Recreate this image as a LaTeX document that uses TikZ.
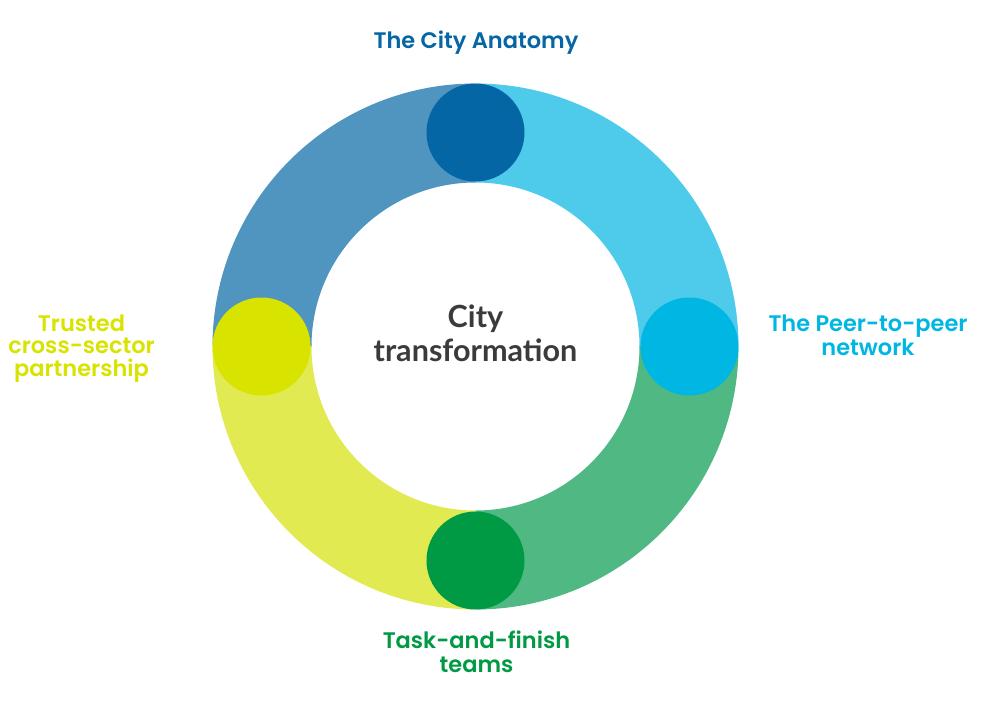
\documentclass[tikz,border=0pt]{standalone}
\usepackage{fontspec}
\setmainfont{Lato}
\newfontfamily\lblfont{Poppins SemiBold}
\usepackage{tikz}
\usepackage{xcolor}

\definecolor{anatomyDark}{HTML}{0566A5}
\definecolor{anatomyLight}{HTML}{4F95C0}
\definecolor{peerDark}{HTML}{00B6E2}
\definecolor{peerLight}{HTML}{4ECBEB}
\definecolor{taskDark}{HTML}{009A44}
\definecolor{taskLight}{HTML}{4FB883}
\definecolor{trustDark}{HTML}{D8E300}
\definecolor{trustLight}{HTML}{E2EA52}
\definecolor{coreGray}{HTML}{3B3B3D}

\begin{document}
\begin{tikzpicture}[
  seg/.style={line width=1.98cm},
  hub/.style={circle, minimum size=1.96cm, inner sep=0pt},
  lbl/.style={align=center, inner sep=0pt, font=\lblfont\fontsize{12.8}{13.8}\selectfont},
  core/.style={align=center, inner sep=0pt, font=\bfseries\fontsize{17.4}{19.3}\selectfont, text=coreGray},
]

% ─── Canvas (keeps the margins of the page) ───
\useasboundingbox (-9.51, 6.93) rectangle (10.49, -7.47);

% ─── Ring segments (one quarter per stage) ───
\draw[seg, anatomyLight] (90:4.27) arc[start angle=90, end angle=180, radius=4.27];
\draw[seg, peerLight]    (0:4.27) arc[start angle=0, end angle=90, radius=4.27];
\draw[seg, taskLight]    (-90:4.27) arc[start angle=-90, end angle=0, radius=4.27];
\draw[seg, trustLight]   (180:4.27) arc[start angle=180, end angle=270, radius=4.27];

% ─── Stage hubs on the ring ───
\node[hub, fill=anatomyDark] (anatomy) at (90:4.28)  {};
\node[hub, fill=peerDark]    (peer)    at (0:4.28)   {};
\node[hub, fill=taskDark]    (task)    at (-90:4.28) {};
\node[hub, fill=trustDark]   (trust)   at (180:4.28) {};

% ─── Centre text ───
\node[core] (city) at (0, 0.27) {City\\transformation};

% ─── Stage labels ───
\node[lbl, text=anatomyDark, anchor=base] (anatomylbl) at (0.01, 5.95) {The City Anatomy};
\node[lbl, text=peerDark] (peerlbl) at (7.85, 0.23) {The Peer-to-peer\\network};
\node[lbl, text=taskDark] (tasklbl) at (0.02, -6.10) {Task-and-finish\\teams};
\node[lbl, text=trustDark, font=\lblfont\fontsize{12.8}{12.9}\selectfont] (trustlbl) at (-7.88, -0.04) {Trusted\\cross-sector\\partnership};

\end{tikzpicture}
\end{document}
